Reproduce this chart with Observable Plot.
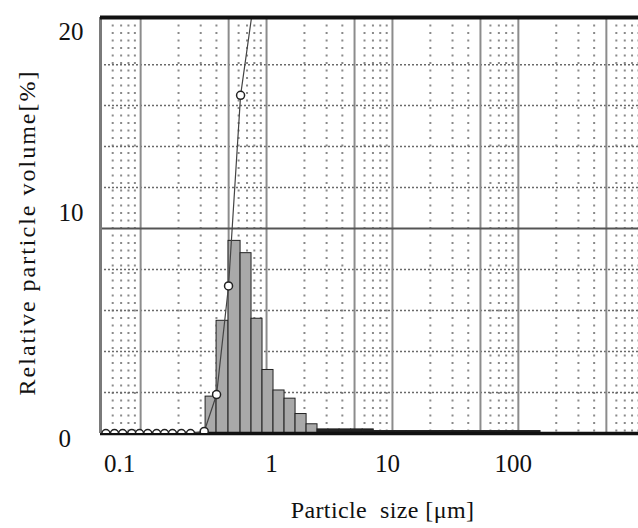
<!DOCTYPE html>
<html>
<head>
<meta charset="utf-8">
<script src="https://cdn.jsdelivr.net/npm/d3@7"></script>
<script src="https://cdn.jsdelivr.net/npm/@observablehq/plot@0.6"></script>
<style>
  html, body { margin: 0; padding: 0; background: #fff; }
  #chart { width: 638px; height: 528px; }
</style>
</head>
<body>
<div id="chart"></div>
<script>
// ---- data ----
const binEdges = [0.328, 0.401, 0.499, 0.622, 0.760, 0.929, 1.136, 1.39, 1.70, 2.08, 2.54,
  3.1, 3.8, 4.7, 5.8, 7.1, 8.7, 10.6, 13, 16, 19.6, 24, 29.4, 36, 44, 54, 66, 81, 99, 121, 150];
const binValues = [1.8, 5.5, 9.4, 8.8, 5.6, 3.1, 2.1, 1.7, 0.95, 0.45,
  0.2, 0.2, 0.2, 0.2, 0.2,
  0.12, 0.12, 0.12, 0.12, 0.12, 0.12, 0.12, 0.12, 0.12, 0.12, 0.12, 0.12, 0.12, 0.12, 0.12];

const cumSize  = [0.053, 0.062, 0.072, 0.085, 0.098, 0.114, 0.134, 0.155, 0.179, 0.211, 0.249,
  0.32, 0.401, 0.499, 0.622, 0.78, 0.93, 1.14, 1.39];
const cumValue = [0, 0, 0, 0, 0, 0, 0, 0, 0, 0, 0,
  0.1, 1.9, 7.2, 16.5, 20.8, 29, 34, 38];

const xMajorGrid = [0.1, 0.5, 1, 5, 10, 50, 100, 500];
const xMinorGrid = [0.06, 0.07, 0.08, 0.09, 0.2, 0.3, 0.4, 0.6, 0.7, 0.8, 0.9,
  2, 3, 4, 6, 7, 8, 9, 20, 30, 40, 60, 70, 80, 90, 200, 300, 400, 600, 700, 800, 900];
const yMajorGrid = [10];
const yMinorGrid = [2, 4, 6, 8, 12, 14, 16, 18];

const xTicks = [0.1, 1, 10, 100];
const xTickLabels = ["0.1", "1", "10", "100"];
const yTicks = [0, 10, 20];
const yTickLabels = ["0", "10", "20"];

const xTitle = "Particle  size [\u03bcm]";
const yTitle = "Relative particle volume[%]";

// ---- build ----
const bins = binValues.map((v, i) => ({x1: binEdges[i], x2: binEdges[i + 1], y: v}));
const cum = cumSize.map((s, i) => ({x: s, y: cumValue[i]}));
const xMin = 0.048, xMax = 900, yMax = 20.3;
const font = "'Liberation Serif', 'Times New Roman', serif";

const xt = xTicks.map((v, i) => ({x: v, label: xTickLabels[i]}));
const yt = yTicks.map((v, i) => ({y: v, label: yTickLabels[i]}));

const chart = Plot.plot({
  width: 638,
  height: 528,
  marginLeft: 100,
  marginRight: 0,
  marginTop: 17,
  marginBottom: 95,
  style: {fontFamily: font, background: "#fff", overflow: "visible"},
  x: {type: "log", domain: [xMin, xMax], axis: null},
  y: {domain: [0, yMax], axis: null},
  marks: [
    // grid
    Plot.ruleX(xMinorGrid, {stroke: "#8a8a8a", strokeWidth: 2, strokeDasharray: "2,5.5", clip: true}),
    Plot.ruleY(yMinorGrid, {stroke: "#6a6a6a", strokeWidth: 1.5, strokeDasharray: "2,2"}),
    Plot.ruleX(xMajorGrid, {stroke: "#8c8c8c", strokeWidth: 2}),
    Plot.ruleY(yMajorGrid, {stroke: "#555", strokeWidth: 2}),
    // histogram
    Plot.rectY(bins, {x1: "x1", x2: "x2", y: "y", fill: d => d.y < 0.3 ? "#222" : "#a9a9a9", stroke: "#222", strokeWidth: 1, inset: 0}),
    // frame
    Plot.ruleY([0], {stroke: "#111", strokeWidth: 3.5}),
    Plot.ruleX([xMin], {stroke: "#7a7a7a", strokeWidth: 3}),
    // cumulative curve
    Plot.line(cum, {x: "x", y: "y", stroke: "#444", strokeWidth: 1.2, clip: true}),
    Plot.dot(cum, {x: "x", y: "y", r: 4, stroke: "#222", fill: "#fff", strokeWidth: 1.5, clip: true}),
    Plot.ruleY([yMax], {stroke: "#111", strokeWidth: 4}),
    // x tick labels
    Plot.text(xt.filter(d => d.x === 0.1), {x: "x", text: "label", frameAnchor: "bottom", lineAnchor: "middle", dy: 30, dx: -21, fontSize: 25, fill: "#111"}),
    Plot.text(xt.filter(d => d.x === 1), {x: "x", text: "label", frameAnchor: "bottom", lineAnchor: "middle", dy: 30, dx: 5, fontSize: 25, fill: "#111"}),
    Plot.text(xt.filter(d => d.x >= 10), {x: "x", text: "label", frameAnchor: "bottom", lineAnchor: "middle", dy: 30, dx: -5, fontSize: 25, fill: "#111"}),
    // y tick labels
    Plot.text(yt.filter(d => d.y === 0), {y: "y", text: "label", frameAnchor: "left", textAnchor: "start", lineAnchor: "middle", dx: -42, dy: 5, fontSize: 25, fill: "#111"}),
    Plot.text(yt.filter(d => d.y === 10), {y: "y", text: "label", frameAnchor: "left", textAnchor: "start", lineAnchor: "middle", dx: -42, dy: -16, fontSize: 25, fill: "#111"}),
    Plot.text(yt.filter(d => d.y === 20), {y: "y", text: "label", frameAnchor: "left", textAnchor: "start", lineAnchor: "middle", dx: -42, dy: 8, fontSize: 25, fill: "#111"}),
    // titles
    Plot.text([xTitle], {frameAnchor: "bottom", textAnchor: "middle", lineAnchor: "middle", dx: 382 - (100 + 538 / 2), dy: 77, fontSize: 24, fill: "#111"}),
    Plot.text([yTitle], {frameAnchor: "left", textAnchor: "middle", lineAnchor: "middle", rotate: -90, dx: -73, dy: 7, fontSize: 24, fill: "#111"})
  ]
});
document.getElementById("chart").appendChild(chart);
// letter spacing for titles
chart.querySelectorAll("text").forEach(t => {
  if (t.textContent === yTitle) t.setAttribute("letter-spacing", "2");
  if (t.textContent === xTitle) t.setAttribute("letter-spacing", "0.4");
});
</script>
</body>
</html>
